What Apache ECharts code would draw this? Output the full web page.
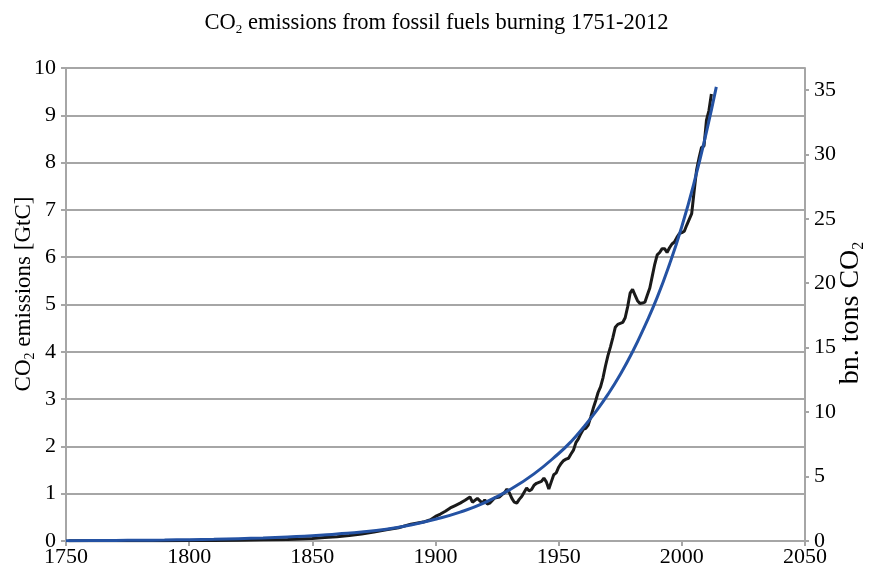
<!DOCTYPE html>
<html>
<head>
<meta charset="utf-8">
<script src="https://cdn.jsdelivr.net/npm/echarts@6/dist/echarts.min.js"></script>
<style>
html,body{margin:0;padding:0;background:#fff;}
#chart{width:873px;height:571px;}
</style>
</head>
<body>
<div id="chart"></div>
<script>
const xTicks = [1750, 1800, 1850, 1900, 1950, 2000, 2050];
const leftTicks = [0,1,2,3,4,5,6,7,8,9,10];
const rightTicks = [0,5,10,15,20,25,30,35];

const emissionYears = [1751,1760,1770,1780,1790,1800,1810,1820,1830,1840,1845,1850,1855,1860,1865,1870,1875,1880,1885,1890,1895,1898,1900,1902,1904,1906,1908,1910,1912,1914,1915,1917,1919,1920,1921,1922,1924,1926,1927,1928,1929,1930,1931,1932,1933,1934,1935,1936,1937,1938,1939,1940,1941,1942,1943,1944,1945,1946,1947,1948,1949,1950,1951,1952,1953,1954,1955,1956,1957,1958,1959,1960,1961,1962,1963,1964,1965,1966,1967,1968,1969,1970,1971,1972,1973,1974,1975,1976,1977,1978,1979,1980,1981,1982,1983,1984,1985,1986,1987,1988,1989,1990,1991,1992,1993,1994,1995,1996,1997,1998,1999,2000,2001,2002,2003,2004,2005,2006,2007,2008,2009,2010,2011,2012];
const emissionValues = [0.003,0.003,0.004,0.005,0.007,0.008,0.010,0.014,0.024,0.033,0.040,0.054,0.075,0.091,0.115,0.147,0.188,0.236,0.280,0.356,0.400,0.45,0.52,0.57,0.63,0.70,0.75,0.80,0.86,0.93,0.82,0.90,0.80,0.87,0.78,0.80,0.91,0.93,0.98,1.02,1.10,1.02,0.90,0.82,0.80,0.88,0.94,1.03,1.12,1.06,1.09,1.18,1.22,1.24,1.26,1.33,1.25,1.10,1.25,1.40,1.44,1.56,1.64,1.70,1.73,1.75,1.84,1.92,2.08,2.16,2.27,2.36,2.38,2.45,2.62,2.80,2.96,3.14,3.26,3.45,3.70,3.92,4.10,4.30,4.52,4.58,4.60,4.62,4.72,4.95,5.24,5.32,5.20,5.08,5.02,5.03,5.05,5.20,5.35,5.60,5.85,6.05,6.10,6.18,6.18,6.10,6.20,6.28,6.32,6.42,6.50,6.52,6.55,6.68,6.80,6.92,7.40,7.85,8.10,8.32,8.35,8.90,9.10,9.45];

const fitYears = [1750,1760,1770,1780,1790,1800,1810,1820,1830,1840,1850,1860,1870,1880,1890,1900,1910,1920,1930,1940,1950,1955,1960,1965,1970,1975,1980,1985,1990,1995,2000,2005,2010,2014];
const fitValues = [0.007,0.009,0.012,0.016,0.021,0.028,0.037,0.049,0.064,0.085,0.11,0.15,0.19,0.25,0.34,0.46,0.61,0.81,1.08,1.42,1.85,2.10,2.40,2.73,3.10,3.52,4.00,4.55,5.15,5.85,6.65,7.58,8.65,9.60];

const serif = '"Liberation Serif", "DejaVu Serif", serif';
const gridGray = '#a6a6a6';

const chart = echarts.init(document.getElementById('chart'), null, {renderer: 'canvas'});

const option = {
  animation: false,
  backgroundColor: '#ffffff',
  title: {
    text: '{a|CO}{s|2}{a| emissions from fossil fuels burning 1751-2012}',
    left: 'center',
    top: 5,
    textStyle: {
      fontWeight: 'normal',
      rich: {
        a: {fontFamily: serif, fontSize: 22.5, fontWeight: 'normal', color: '#000', lineHeight: 26},
        s: {fontFamily: serif, fontSize: 13, fontWeight: 'normal', color: '#000', lineHeight: 12, verticalAlign: 'bottom'}
      }
    }
  },
  grid: {left: 66, right: 68, top: 68, bottom: 30, containLabel: false},
  xAxis: {
    type: 'value',
    min: xTicks[0], max: xTicks[xTicks.length - 1], interval: 50,
    axisLine: {show: true, onZero: false, lineStyle: {color: gridGray, width: 2}},
    axisTick: {show: true, length: 5, lineStyle: {color: gridGray, width: 2}},
    splitLine: {show: false},
    axisLabel: {fontFamily: serif, fontSize: 22, color: '#000', margin: 5, showMinLabel: true, showMaxLabel: true,
      formatter: v => String(v)}
  },
  yAxis: [
    {
      type: 'value', position: 'left',
      min: leftTicks[0], max: leftTicks[leftTicks.length - 1], interval: 1,
      axisLine: {show: true, lineStyle: {color: gridGray, width: 2}},
      axisTick: {show: true, length: 5, lineStyle: {color: gridGray, width: 2}},
      splitLine: {show: true, lineStyle: {color: gridGray, width: 2}},
      axisLabel: {fontFamily: serif, fontSize: 22, color: '#000', margin: 10}
    },
    {
      type: 'value', position: 'right',
      min: 0, max: 36.7,
      axisLine: {show: true, lineStyle: {color: gridGray, width: 2}},
      axisTick: {show: true, length: 4, customValues: rightTicks, lineStyle: {color: gridGray, width: 2}},
      splitLine: {show: false},
      axisLabel: {fontFamily: serif, fontSize: 22, color: '#000', margin: 9, customValues: rightTicks}
    }
  ],
  graphic: [
    {
      type: 'text', x: 24, y: 294, rotation: Math.PI / 2,
      style: {
        text: '{a|CO}{s|2}{a| emissions [GtC]}',
        align: 'center', verticalAlign: 'middle',
        rich: {
          a: {fontFamily: serif, fontSize: 23, fill: '#000', lineHeight: 26},
          s: {fontFamily: serif, fontSize: 14, fill: '#000', lineHeight: 12, verticalAlign: 'bottom'}
        }
      }
    },
    {
      type: 'text', x: 851, y: 313, rotation: Math.PI / 2,
      style: {
        text: '{a|bn. tons CO}{s|2}',
        align: 'center', verticalAlign: 'middle',
        rich: {
          a: {fontFamily: serif, fontSize: 28, fill: '#000', lineHeight: 32},
          s: {fontFamily: serif, fontSize: 16, fill: '#000', lineHeight: 14, verticalAlign: 'bottom'}
        }
      }
    }
  ],
  series: [
    {
      name: 'Emissions', type: 'line', yAxisIndex: 0,
      data: emissionYears.map((y, i) => [y, emissionValues[i]]),
      showSymbol: false, symbol: 'none',
      lineStyle: {color: '#1a1a1a', width: 3},
      z: 3
    },
    {
      name: 'Exponential fit', type: 'line', yAxisIndex: 0,
      data: fitYears.map((y, i) => [y, fitValues[i]]),
      showSymbol: false, symbol: 'none', smooth: true,
      lineStyle: {color: '#2452a3', width: 3},
      z: 4
    }
  ]
};
chart.setOption(option);
</script>
</body>
</html>
